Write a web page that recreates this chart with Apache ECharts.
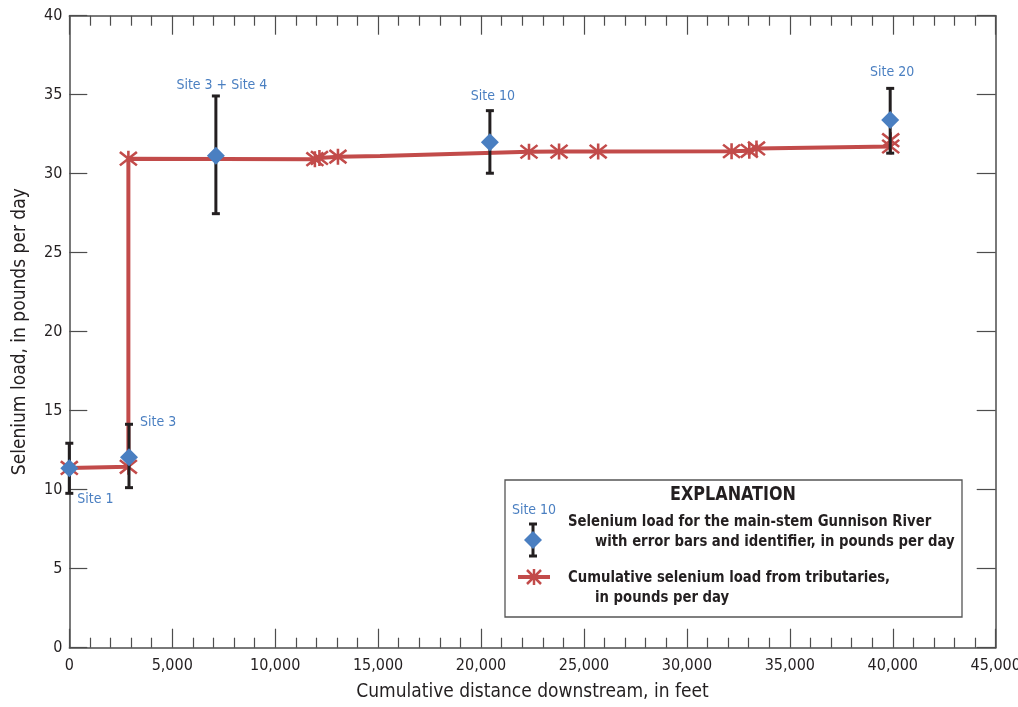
<!DOCTYPE html>
<html>
<head>
<meta charset="utf-8">
<script src="https://cdn.jsdelivr.net/npm/echarts@6/dist/echarts.min.js"></script>
<style>html,body{margin:0;padding:0;background:#fff;overflow:hidden}#c{width:1018px;height:707px}</style>
</head>
<body>
<div id="c"></div>
<script>
// ---- data ----
const siteNames = ['Site 1', 'Site 3', 'Site 3 + Site 4', 'Site 10', 'Site 20'];
const siteDistance = [0, 2900, 7120, 20430, 39875];
const siteLoad = [11.35, 12.05, 31.14, 31.99, 33.4];
const siteLow = [9.77, 10.13, 27.47, 30.03, 31.3];
const siteHigh = [12.94, 14.14, 34.92, 33.99, 35.4];

const tribDistance = [0, 2870, 2870, 11930, 12150, 13050, 15100, 22330, 23790, 25690, 32170, 33030, 33380, 39900, 39900];
const tribLoad = [11.38, 11.45, 30.95, 30.92, 31.0, 31.08, 31.12, 31.39, 31.4, 31.4, 31.42, 31.45, 31.6, 31.72, 32.12];
const tribMarked = [true, true, true, true, true, true, false, true, true, true, true, true, true, true, true];

const xTicks = [0, 5000, 10000, 15000, 20000, 25000, 30000, 35000, 40000, 45000];
const yTicks = [0, 5, 10, 15, 20, 25, 30, 35, 40];

// ---- style ----
const FONT = "'Liberation Sans Narrow', 'DejaVu Sans Condensed', 'Roboto', sans-serif";
const BLUE = '#4a7fc1';
const RED = '#c24b4a';
const INK = '#231f20';
const AX = '#4d4d4d';
const STAR = 'path://M0,0L10,10M10,0L0,10M5,-1L5,11';

const labelStyle = {
  'Site 1': {position: 'bottom', offset: [26, 10]},
  'Site 3': {position: 'right', offset: [-3, -35]},
  'Site 3 + Site 4': {position: 'top', offset: [6, -49]},
  'Site 10': {position: 'top', offset: [3, -25]},
  'Site 20': {position: 'top', offset: [2, -27]}
};

const chart = echarts.init(document.getElementById('c'));

const fmt = v => v.toLocaleString('en-US');

const axisCommon = {
  type: 'value',
  axisLine: {show: true, onZero: false, lineStyle: {color: AX, width: 1.5}},
  splitLine: {show: false}
};

const legendText = (x, y, t) => ({type: 'text', z: 101, x: x, y: y, scaleX: 0.92,
  style: {text: t, fontFamily: FONT, fontWeight: 'bold', fontSize: 16, fill: INK, verticalAlign: 'middle'}});
const gLine = (x1, y1, x2, y2, c, w) => ({type: 'line', z: 102, shape: {x1, y1, x2, y2}, style: {stroke: c, lineWidth: w}});

const option = {
  animation: false,
  backgroundColor: '#fff',
  grid: {left: 69.3, right: 22.3, top: 15.7, bottom: 59.3, containLabel: false, outerBoundsMode: 'none'},
  xAxis: [
    Object.assign({}, axisCommon, {
      position: 'bottom', min: 0, max: 45000, interval: 5000,
      name: 'Cumulative distance downstream, in feet', nameLocation: 'middle', nameGap: 35,
      nameTextStyle: {fontFamily: FONT, fontSize: 19, color: INK},
      axisTick: {show: true, inside: true, length: 19, lineStyle: {color: AX, width: 1.2}},
      minorTick: {show: true, splitNumber: 5, length: 10, lineStyle: {color: AX, width: 1.2}},
      axisLabel: {fontFamily: FONT, fontSize: 16, color: INK, margin: 10, formatter: v => fmt(v)}
    }),
    Object.assign({}, axisCommon, {
      position: 'top', min: 0, max: 45000, interval: 5000,
      axisTick: {show: true, inside: true, length: 19, lineStyle: {color: AX, width: 1.2}},
      minorTick: {show: true, splitNumber: 5, length: 10, lineStyle: {color: AX, width: 1.2}},
      axisLabel: {show: false}
    })
  ],
  yAxis: [
    Object.assign({}, axisCommon, {
      position: 'left', min: 0, max: 40, interval: 5,
      name: 'Selenium load, in pounds per day', nameLocation: 'middle', nameGap: 40,
      nameTextStyle: {fontFamily: FONT, fontSize: 19, color: INK},
      axisTick: {show: true, inside: true, length: 18, lineStyle: {color: AX, width: 1.2}},
      axisLabel: {fontFamily: FONT, fontSize: 16, color: INK, margin: 7}
    }),
    Object.assign({}, axisCommon, {
      position: 'right', min: 0, max: 40, interval: 5,
      axisTick: {show: true, inside: true, length: 19, lineStyle: {color: AX, width: 1.2}},
      axisLabel: {show: false}
    })
  ],
  series: [
    {
      name: 'trib', type: 'line', xAxisIndex: 0, yAxisIndex: 0, z: 3,
      data: tribDistance.map((x, i) => ({
        value: [x, tribLoad[i]],
        symbol: tribMarked[i] ? STAR : 'none'
      })),
      symbolSize: [17, 16],
      showAllSymbol: true,
      lineStyle: {color: RED, width: 4},
      itemStyle: {color: 'rgba(0,0,0,0)', borderColor: RED, borderWidth: 2.5}
    },
    {
      name: 'err', type: 'custom', xAxisIndex: 0, yAxisIndex: 0, z: 4,
      data: siteDistance.map((x, i) => [x, siteLow[i], siteHigh[i]]),
      renderItem: function (params, api) {
        const lo = api.coord([api.value(0), api.value(1)]);
        const hi = api.coord([api.value(0), api.value(2)]);
        const cw = 4;
        const st = {stroke: INK, lineWidth: 3};
        return {
          type: 'group',
          children: [
            {type: 'line', shape: {x1: lo[0], y1: lo[1], x2: hi[0], y2: hi[1]}, style: st},
            {type: 'line', shape: {x1: lo[0] - cw, y1: lo[1], x2: lo[0] + cw, y2: lo[1]}, style: st},
            {type: 'line', shape: {x1: hi[0] - cw, y1: hi[1], x2: hi[0] + cw, y2: hi[1]}, style: st}
          ]
        };
      }
    },
    {
      name: 'site', type: 'scatter', xAxisIndex: 0, yAxisIndex: 0, z: 5,
      symbol: 'diamond', symbolSize: [18, 18],
      itemStyle: {color: BLUE, opacity: 1},
      data: siteDistance.map((x, i) => ({
        value: [x, siteLoad[i]],
        label: Object.assign({
          show: true, formatter: siteNames[i],
          fontFamily: FONT, fontSize: 14, color: BLUE
        }, labelStyle[siteNames[i]])
      }))
    }
  ],
  graphic: [
    {type: 'rect', z: 100, shape: {x: 505, y: 480, width: 457, height: 137},
      style: {fill: '#fff', stroke: '#555', lineWidth: 1.3}},
    {type: 'text', z: 101, x: 733, y: 495, scaleX: 0.89,
      style: {text: 'EXPLANATION', fontFamily: FONT, fontWeight: 'bold', fontSize: 20, fill: INK, align: 'center', verticalAlign: 'middle'}},
    {type: 'text', z: 101, x: 534, y: 510,
      style: {text: 'Site 10', fontFamily: FONT, fontSize: 14, fill: BLUE, align: 'center', verticalAlign: 'middle'}},
    gLine(533, 524, 533, 556, INK, 3),
    gLine(529, 524, 537, 524, INK, 3),
    gLine(529, 556, 537, 556, INK, 3),
    {type: 'polygon', z: 103, shape: {points: [[533, 531], [542, 540], [533, 549], [524, 540]]}, style: {fill: BLUE}},
    legendText(568, 522, 'Selenium load for the main-stem Gunnison River'),
    legendText(595, 542, 'with error bars and identifier, in pounds per day'),
    gLine(518, 577, 550, 577, RED, 4),
    gLine(527, 570, 541, 584, RED, 2.5),
    gLine(541, 570, 527, 584, RED, 2.5),
    gLine(534, 569, 534, 585, RED, 2.5),
    legendText(568, 578, 'Cumulative selenium load from tributaries,'),
    legendText(595, 598, 'in pounds per day')
  ]
};
chart.setOption(option);
</script>
</body>
</html>
